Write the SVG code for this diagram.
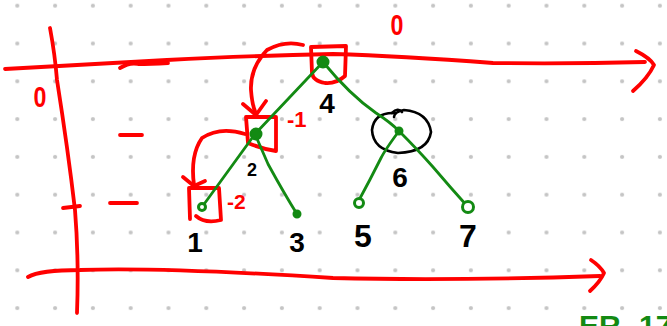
<svg xmlns="http://www.w3.org/2000/svg" width="667" height="326" viewBox="0 0 667 326">
<defs>
<pattern id="dots" patternUnits="userSpaceOnUse" x="-1.6" y="-13.2" width="37.8" height="37.8">
<circle cx="18.9" cy="18.9" r="2.1" fill="#c4c4c4"/>
</pattern>
</defs>
<style>
.red{fill:none;stroke:#ff0000;stroke-width:3.8;stroke-linecap:round;stroke-linejoin:round}
.edge{fill:none;stroke:#138a13;stroke-width:2.8;stroke-linecap:round}
.dot{fill:#138a13;stroke:#138a13;stroke-width:2}
.hollow{fill:#ffffff;stroke:#138a13;stroke-width:3}
.lbl{font-family:"Liberation Sans",Arial,sans-serif;font-weight:bold;fill:#000;text-anchor:middle}
.rtxt{font-family:"Liberation Sans",Arial,sans-serif;fill:#ff0000;font-weight:bold}
.blk{fill:none;stroke:#000;stroke-width:2.6;stroke-linecap:round}
</style>
<rect width="667" height="326" fill="#ffffff"/>
<rect width="667" height="326" fill="url(#dots)"/>

<g id="axes">
<path class="red" d="M5,69 Q90,64 167,60 T333,54 Q400,56 493,63 Q570,64 645,62"/>
<path class="red" d="M636,51 Q650,58 654,65 Q648,78 633,91"/>
<path class="red" d="M120,68 Q130,62 138,64 Q150,64 168,63"/>
<path class="red" d="M50,28 Q55,55 57,80 Q68,150 75,210 Q79,260 77,313"/>
<path class="red" d="M63,208 L80,206"/>
<path class="red" d="M120,135 L142,135"/>
<path class="red" d="M110,203 L137,203"/>
<path class="red" d="M28,277 Q40,270 80,270 Q160,267 333,278 Q450,281 600,276"/>
<path class="red" d="M591,260 Q600,266 604,273 Q600,282 590,291"/>
<text class="rtxt" transform="translate(40,107) scale(0.8,1)" font-size="29" text-anchor="middle">0</text>
<text class="rtxt" transform="translate(397,35) scale(0.8,1)" font-size="29" text-anchor="middle">0</text>
</g>

<g id="annotations">
<path class="red" d="M311,47 L346,46 L345,76 Q336,84 325,83 Q313,81 312,73 Z"/>
<path class="red" d="M246,117 L276,117 L276,151 Q262,149 248,143 Z"/>
<path class="red" d="M189,188 L219,188 L221,220 Q205,224 196,216 M189,188 L190,219"/>
<path class="red" d="M303,45 Q285,40 267,50 Q250,68 251,90 Q252,105 256,114"/>
<path class="red" d="M243,104 L256,115 L266,101"/>
<path class="red" d="M245,134 Q220,126 202,138 Q190,155 194,185"/>
<path class="red" d="M183,177 L194,186 L205,181"/>
<text class="rtxt" x="287" y="127" font-size="22">-1</text>
<text class="rtxt" x="227" y="209" font-size="21">-2</text>
<path class="blk" d="M395,113 Q374,112 372,130 Q373,150 398,153 Q428,152 431,132 Q428,112 404,110 Q394,112 394,117"/>
<path class="blk" d="M392,113 Q398,107 402,112"/>
</g>

<g id="connectors">
<path class="edge" d="M323,62 L255,134"/>
<path class="edge" d="M323,62 Q350,95 376,113 Q390,122 399,131"/>
<path class="edge" d="M255,134 L202,207"/>
<path class="edge" d="M255,134 Q262,150 268,164 Q285,195 297,214"/>
<path class="edge" d="M399,131 Q385,150 381,158 Q370,180 358,202"/>
<path class="edge" d="M399,131 Q418,150 433,167 Q450,187 468,207"/>
</g>

<g id="n4"><circle class="dot" cx="323" cy="62" r="5.5"/><text class="lbl" x="327" y="113" font-size="28">4</text></g>
<g id="n2"><circle class="dot" cx="256" cy="134" r="5.5"/><text class="lbl" x="252" y="176" font-size="18">2</text></g>
<g id="n1"><circle class="hollow" cx="202" cy="207" r="3.5"/><text class="lbl" x="195" y="252" font-size="28">1</text></g>
<g id="n3"><circle class="dot" cx="297" cy="214" r="3.5"/><text class="lbl" x="297" y="252" font-size="28">3</text></g>
<g id="n6"><circle class="dot" cx="399" cy="131" r="3.5"/><text class="lbl" x="400" y="187" font-size="28">6</text></g>
<g id="n5"><circle class="hollow" cx="359" cy="203" r="4.5"/><text class="lbl" x="363" y="247" font-size="32">5</text></g>
<g id="n7"><circle class="hollow" cx="468" cy="207" r="5.5"/><text class="lbl" x="468" y="247" font-size="32">7</text></g>

<text x="579" y="336" font-family="Liberation Sans, Arial, sans-serif" font-weight="bold" font-size="30" fill="#138a13">ER -17</text>
</svg>
